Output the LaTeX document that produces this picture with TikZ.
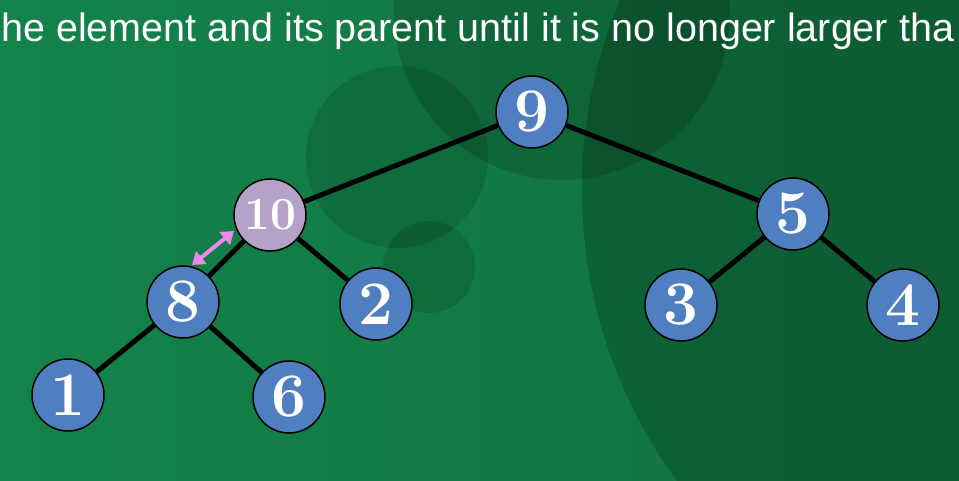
\documentclass[tikz,border=0pt]{standalone}
\usepackage{fontspec}
\newfontfamily\sansf{Liberation Sans}
\usetikzlibrary{arrows.meta}
\definecolor{bgL}{HTML}{13834B}
\definecolor{bgR}{HTML}{10703F}
\definecolor{nodeblue}{HTML}{4F7FC0}
\definecolor{nodelav}{HTML}{B4A2C8}
\definecolor{swapc}{HTML}{EE88EE}
\begin{document}
\begin{tikzpicture}[x=1pt,y=-1pt,
  heapnode/.style={circle, draw=black, line width=1.5pt, fill=nodeblue,
    minimum size=72pt, inner sep=0pt, text=white,
    font=\fontsize{62}{62}\selectfont\bfseries},
  hotnode/.style={heapnode, fill=nodelav, font=\fontsize{46}{46}\selectfont\bfseries},
  edge/.style={line width=5pt, black},
  swaparrow/.style={line width=4pt, swapc,
    {Triangle[length=12pt,width=16pt]}-{Triangle[length=12pt,width=16pt]}},
  deco/.style={fill=black}]
\useasboundingbox (0,0) rectangle (959,481);
\shade[left color=bgL, right color=bgR] (0,0) rectangle (959,481);
\begin{scope}
  \clip (0,0) rectangle (959,481);
  \fill[deco, opacity=0.18] (1075,190) circle (493pt);
  \fill[deco, opacity=0.15] (562,12) circle (168pt);
  \fill[deco, opacity=0.12] (397,157) circle (91pt);
  \fill[deco, opacity=0.12] (429,267) circle (46pt);
\end{scope}
\node[anchor=base west, inner sep=0pt, text=white,
  font=\sansf\fontsize{39.5}{39.5}\selectfont] (title) at (1,42)
  {he element and its parent until it is no longer larger tha};
% nodes
\node[heapnode] (n9) at (532,112) {9};
\node[hotnode]  (n10) at (270,215) {10};
\node[heapnode] (n5) at (793,214) {5};
\node[heapnode] (n8) at (183,302) {8};
\node[heapnode] (n2) at (376,304) {2};
\node[heapnode] (n3) at (681,305) {3};
\node[heapnode] (n4) at (903,305) {4};
\node[heapnode] (n1) at (68,395) {1};
\node[heapnode] (n6) at (289,397) {6};
% edges
\draw[edge] (n9) -- (n10);
\draw[edge] (n9) -- (n5);
\draw[edge] (n10) -- (n8);
\draw[edge] (n10) -- (n2);
\draw[edge] (n8) -- (n1);
\draw[edge] (n8) -- (n6);
\draw[edge] (n5) -- (n3);
\draw[edge] (n5) -- (n4);
% swap arrow
\coordinate (sa) at (192,265);
\coordinate (sb) at (234,231);
\draw[swaparrow] (sa) -- (sb);
\end{tikzpicture}
\end{document}
